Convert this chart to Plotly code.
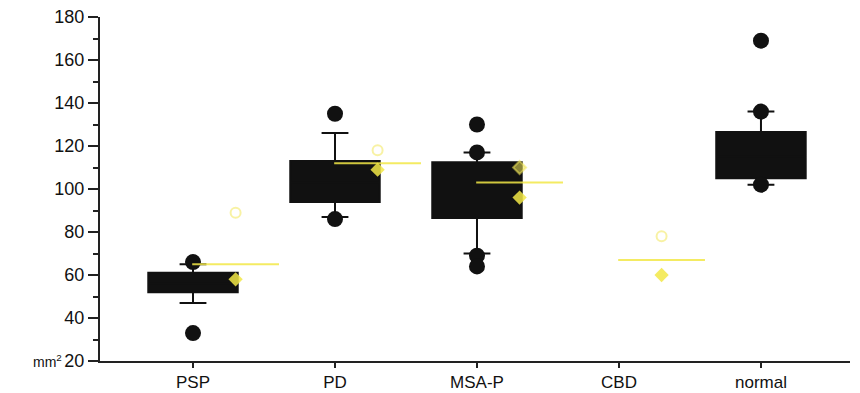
import plotly.graph_objects as go

categories = ["PSP", "PD", "MSA-P", "CBD", "normal"]

# black box plots (CBD has none)
box_cats = ["PSP", "PD", "MSA-P", "normal"]
q1 = [52, 94, 86.5, 105]
median = [56, 103, 100, 115]
q3 = [61, 113, 112.5, 126.5]
lower_whisker = [47, 87, 70, 102]
upper_whisker = [65, 126, 117, 136]

# black outlier dots
out_cats = ["PSP", "PSP", "PD", "PD", "MSA-P", "MSA-P", "MSA-P", "MSA-P",
            "normal", "normal", "normal"]
out_vals = [33, 66, 86, 135, 130, 117, 69, 64, 169, 136, 102]

# faint yellow overlay series
y_cats = ["PSP", "PD", "MSA-P", "CBD"]
y_mid = [65, 112, 103, 67]
y_upper = [89, 118, 110, 78]
y_lower = [58, 109, 96, 60]

pos = {c: i for i, c in enumerate(categories)}
YOFF = 0.3

fig = go.Figure()

fig.add_trace(go.Box(
    x=[pos[c] for c in box_cats],
    q1=q1, median=median, q3=q3,
    lowerfence=lower_whisker, upperfence=upper_whisker,
    width=0.63, whiskerwidth=0.3,
    fillcolor="#111111", line=dict(color="#111111", width=2),
    boxpoints=False, showlegend=False,
))

fig.add_trace(go.Scatter(
    x=[pos[c] for c in out_cats], y=out_vals, mode="markers",
    marker=dict(color="#111111", size=16), showlegend=False,
))

yellow = "rgba(242,232,70,0.85)"
yellow_faint = "rgba(242,232,90,0.55)"
fig.add_trace(go.Scatter(
    x=[pos[c] + YOFF for c in y_cats], y=y_mid, mode="markers",
    marker=dict(symbol="line-ew", size=62, line=dict(color=yellow, width=2)),
    showlegend=False,
))
fig.add_trace(go.Scatter(
    x=[pos[c] + YOFF for c in y_cats], y=y_upper, mode="markers",
    marker=dict(symbol=["circle-open", "circle-open", "diamond", "circle-open"],
                size=10, color=yellow_faint, line=dict(color=yellow_faint, width=2)),
    showlegend=False,
))
fig.add_trace(go.Scatter(
    x=[pos[c] + YOFF for c in y_cats], y=y_lower, mode="markers",
    marker=dict(symbol="diamond", size=11, color=yellow),
    showlegend=False,
))

fig.update_layout(
    width=860, height=393,
    margin=dict(l=92, r=18, t=9, b=40),
    plot_bgcolor="white", paper_bgcolor="white",
    font=dict(family="Liberation Sans, Arial, sans-serif", color="#111111"),
    xaxis=dict(
        range=[-0.655, 4.627], showgrid=False, zeroline=False, automargin=False,
        tickmode="array", tickvals=list(range(len(categories))), ticktext=categories,
        ticks="outside", ticklen=5, tickwidth=2, tickcolor="#222",
        showline=True, linecolor="#222", linewidth=2,
        tickfont=dict(size=17), ticklabeloverflow="allow",
    ),
    yaxis=dict(
        range=[20, 180], showgrid=False, zeroline=False, automargin=False,
        tickmode="linear", tick0=20, dtick=20,
        ticks="outside", ticklen=10, tickwidth=2, tickcolor="#222",
        showline=True, linecolor="#222", linewidth=2,
        minor=dict(dtick=10, ticks="outside", ticklen=5, tickwidth=2, tickcolor="#222"),
        tickfont=dict(size=18), ticklabeloverflow="allow",
    ),
    annotations=[dict(
        text="mm<sup>2</sup>", xref="paper", yref="paper", x=-0.07, y=0.0,
        xanchor="center", yanchor="middle", showarrow=False,
        font=dict(size=14, color="#111111"),
    )],
)

fig.write_html("out.html")
